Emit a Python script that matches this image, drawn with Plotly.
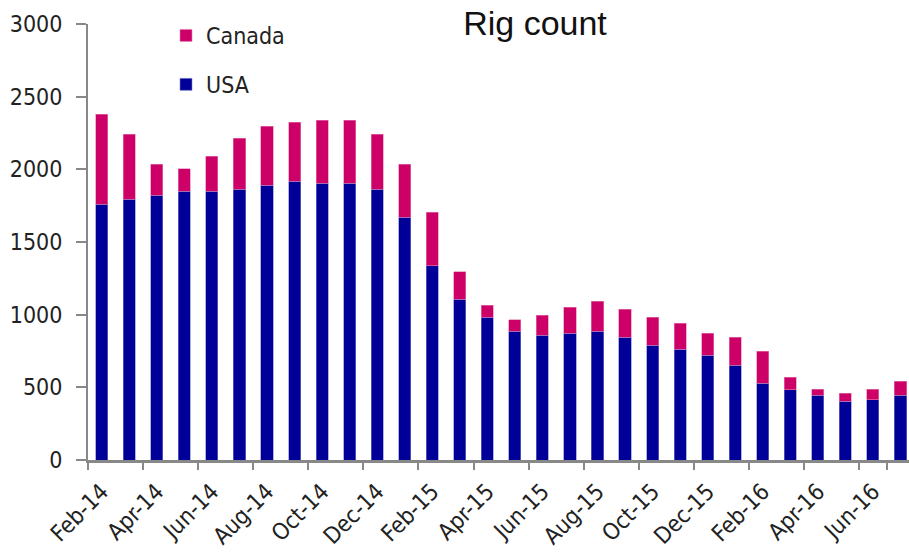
import plotly.graph_objects as go

months = ["Feb-14", "Mar-14", "Apr-14", "May-14", "Jun-14", "Jul-14", "Aug-14", "Sep-14",
          "Oct-14", "Nov-14", "Dec-14", "Jan-15", "Feb-15", "Mar-15", "Apr-15", "May-15",
          "Jun-15", "Jul-15", "Aug-15", "Sep-15", "Oct-15", "Nov-15", "Dec-15", "Jan-16",
          "Feb-16", "Mar-16", "Apr-16", "May-16", "Jun-16", "Jul-16"]
usa = [1760, 1795, 1822, 1850, 1850, 1863, 1891, 1919, 1905, 1905, 1863, 1670, 1336, 1106,
       982, 886, 858, 872, 886, 844, 789, 761, 720, 651, 527, 485, 444, 403, 416, 444]
total = [2380, 2240, 2034, 2004, 2090, 2215, 2296, 2324, 2338, 2338, 2240, 2034, 1705, 1296,
         1065, 966, 996, 1051, 1093, 1037, 982, 941, 872, 844, 748, 568, 488, 458, 488, 541]
canada = [t - u for t, u in zip(total, usa)]
tick_months = months[::2]

FONT = "DejaVu Sans Condensed"

fig = go.Figure()
fig.add_trace(go.Bar(x=months, y=usa, name="USA", marker_color="#000099",
                     marker_line=dict(color="#7f7fcc", width=0.6),
                     legendgroup="usa", legendrank=2))
fig.add_trace(go.Bar(x=months, y=canada, name="Canada", marker_color="#CC0066",
                     marker_line=dict(color="#e67fb2", width=0.6),
                     legendgroup="can", legendrank=1))

fig.update_layout(
    width=909, height=552,
    barmode="stack", bargap=0.56,
    plot_bgcolor="white", paper_bgcolor="white",
    margin=dict(l=88, r=0, t=24, b=92, autoexpand=False),
    font=dict(family=FONT, size=22, color="#222222"),
    title=dict(text="Rig count", x=535/909, xref="container", xanchor="center",
               y=1 - 23/552, yref="container", yanchor="middle",
               font=dict(family="Liberation Sans", size=34, color="#111111")),
    legend=dict(x=166/909, xref="container", xanchor="left",
                y=1 - 14/552, yref="container", yanchor="top",
                traceorder="grouped", tracegroupgap=16,
                font=dict(family=FONT, size=23, color="#222222"),
                bgcolor="rgba(0,0,0,0)"),
    xaxis=dict(type="category", range=[-0.5, 29.31], tickmode="array",
               tickvals=tick_months, ticktext=tick_months, tickson="boundaries",
               ticks="outside", ticklen=7, tickwidth=2, tickcolor="#888888",
               showline=True, linecolor="#888888", linewidth=3,
               tickangle=-45, showgrid=False, ticklabelstandoff=6,
               tickfont=dict(family=FONT, size=23, color="#222222")),
    yaxis=dict(range=[0, 3000], dtick=500, ticks="outside", ticklen=10, tickwidth=2,
               tickcolor="#888888", showline=True, linecolor="#888888", linewidth=2,
               showgrid=False, zeroline=False, ticklabelstandoff=9,
               tickfont=dict(family=FONT, size=23, color="#222222")),
)

fig.write_html("out.html")
